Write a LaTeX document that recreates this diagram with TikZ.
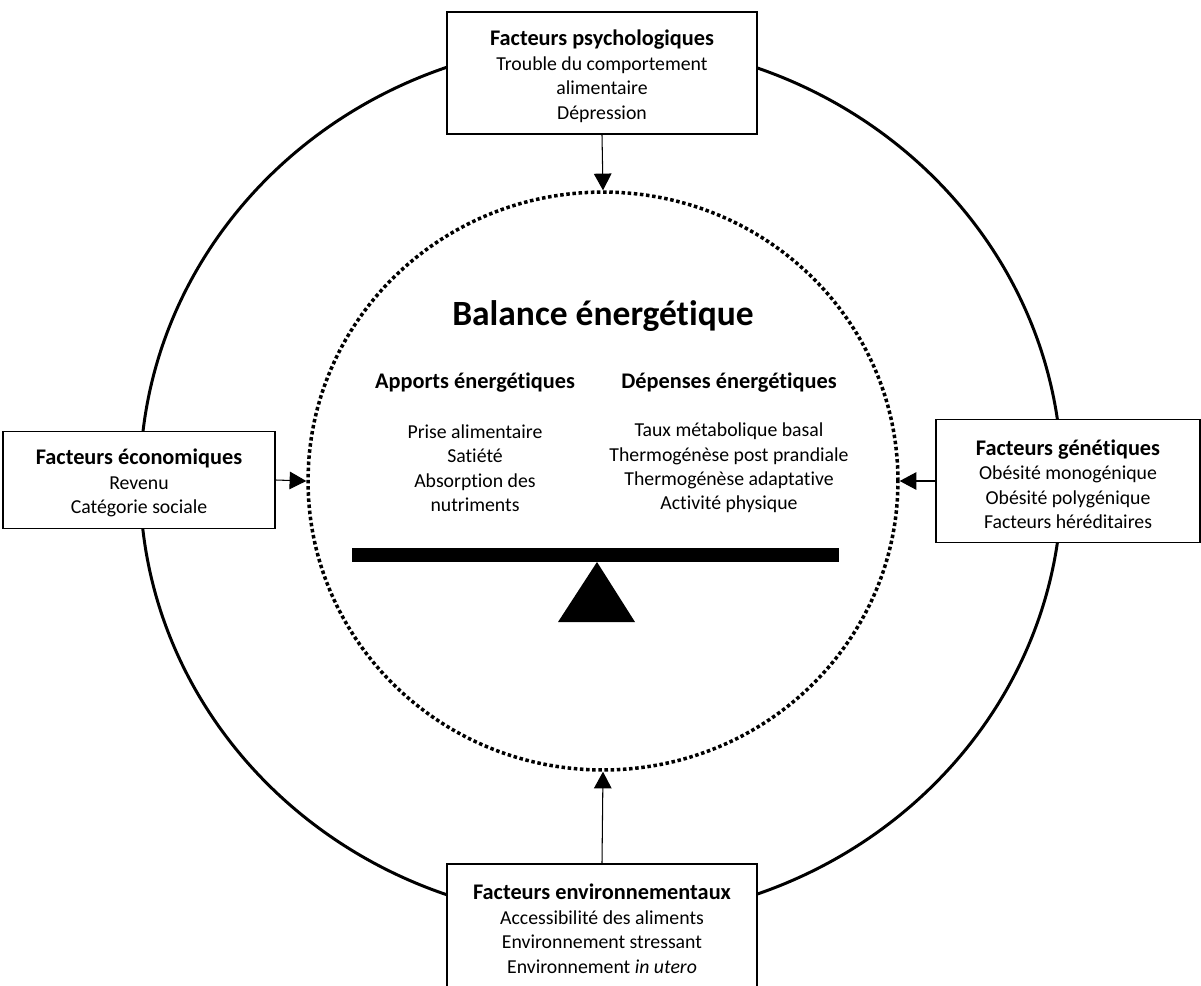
\documentclass[tikz,border=0pt]{standalone}
\usepackage{fontspec}
\setmainfont{Carlito}[Ligatures=NoCommon]
\usepackage{tikz}
\usetikzlibrary{positioning, arrows.meta, shapes.geometric}
\newcommand{\boxtitle}[1]{{\fontsize{12.7}{13.9}\selectfont\bfseries #1}}
\newcommand{\factorhead}[1]{\rule{0pt}{12.5pt}\boxtitle{#1}}

\begin{document}
\begin{tikzpicture}[x=0.02cm, y=-0.02cm,
  every node/.style={font=\fontsize{11.25}{13.9}\selectfont, align=center},
  box/.style={draw, line width=1.1pt, fill=white, inner sep=0pt},
  link/.style={-{Triangle[width=10pt, length=9.5pt]}, line width=0.6pt}]
  \useasboundingbox (0,0) rectangle (1201,985);
  % outer ring and dotted balance circle
  \node (ring) [draw, ellipse, line width=1.7pt, inner sep=0pt, minimum width=18.44cm, minimum height=17.56cm] at (601,481) {};
  \node (bal) [draw, ellipse, line width=2pt, dash pattern=on 2pt off 1.5pt, inner sep=0pt, minimum width=11.8cm, minimum height=11.56cm] at (603,481) {};
  % balance
  \node (title) at (603,316) {\fontsize{20.2}{22}\selectfont\bfseries Balance énergétique};
  \node (apports) at (475,383) {\boxtitle{Apports énergétiques}};
  \node (depenses) at (729,383) {\boxtitle{Dépenses énergétiques}};
  \node (apportlist) at (475,468) {Prise alimentaire\\Satiété\\Absorption des\\nutriments};
  \node (depenselist) at (729,468) {Taux métabolique basal\\Thermogénèse post prandiale\\Thermogénèse adaptative\\Activité physique};
  \fill (352,548) rectangle (839,562);
  \fill (597,562) -- (635,622) -- (558,622) -- cycle;
  % factors
  \node (psy) [box, minimum width=6.2cm, minimum height=2.44cm] at (602,73) {\factorhead{Facteurs psychologiques}\\Trouble du comportement\\alimentaire\\Dépression};
  \node (eco) [box, minimum width=5.44cm, minimum height=1.94cm] at (139,480) {\factorhead{Facteurs économiques}\\Revenu\\Catégorie sociale};
  \node (gen) [box, minimum width=5.28cm, minimum height=2.46cm] at (1068,481) {\factorhead{Facteurs génétiques}\\Obésité monogénique\\Obésité polygénique\\Facteurs héréditaires};
  \node (env) [box, minimum width=6.2cm, minimum height=2.46cm] at (602,925.5) {\factorhead{Facteurs environnementaux}\\Accessibilité des aliments\\Environnement stressant\\Environnement \textit{in utero}};
  \draw[link] (psy.south) -- (bal.north);
  \draw[link] (eco.east) -- (bal.west);
  \draw[link] (gen.west) -- (bal.east);
  \draw[link] (env.north) -- (bal.south);
\end{tikzpicture}
\end{document}
